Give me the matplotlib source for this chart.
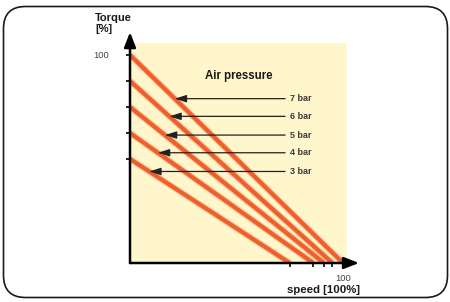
import numpy as np
import matplotlib.pyplot as plt
from matplotlib.patches import FancyBboxPatch

plt.rcParams['font.family'] = ['Liberation Sans', 'DejaVu Sans']

# torque at zero speed and speed at zero torque for each pressure
pressures = ['7 bar', '6 bar', '5 bar', '4 bar', '3 bar']
torque_start = [100, 87.5, 75, 62.5, 50]
speed_end = [100, 95, 91, 86, 75]
# heights where the pointer arrows meet each line
arrow_level = [79, 70.5, 61.5, 53, 44]

W, H = 450, 302
fig = plt.figure(figsize=(W / 100, H / 100), dpi=100)

# rounded frame drawn in pixel units
bg = fig.add_axes([0, 0, 1, 1])
bg.set_xlim(0, W)
bg.set_ylim(0, H)
bg.axis('off')
bg.add_patch(FancyBboxPatch((3.5, 4.5), 444, 291,
                            boxstyle='round,pad=0,rounding_size=22',
                            fc='white', ec='#1a1a1a', lw=1.2))

ax = fig.add_axes([130 / W, 39 / H, 217.3 / W, 220.5 / H])
ax.set_xlim(0, 102)
ax.set_ylim(0, 106)
ax.set_facecolor('#fff6cc')
for s in ax.spines.values():
    s.set_visible(False)

for t0, s1 in zip(torque_start, speed_end):
    ax.plot([0, s1], [t0, 0], color='#f59a70', lw=4.6, alpha=0.5,
            solid_capstyle='butt', zorder=2)
    ax.plot([0, s1], [t0, 0], color='#ef5f2c', lw=3.0,
            solid_capstyle='butt', zorder=3)

# axes with arrowheads
ax.annotate('', xy=(0, 111), xytext=(0, 0), annotation_clip=False,
            arrowprops=dict(arrowstyle='-|>,head_length=0.9,head_width=0.35',
                            color='black', lw=1.8, shrinkA=0, shrinkB=0),
            zorder=5)
ax.annotate('', xy=(107.5, 0), xytext=(0, 0), annotation_clip=False,
            arrowprops=dict(arrowstyle='-|>,head_length=0.9,head_width=0.35',
                            color='black', lw=1.8, shrinkA=0, shrinkB=0),
            zorder=5)

ax.set_yticks(torque_start)
ax.set_yticklabels(['100', '', '', '', ''])
ax.set_xticks(speed_end)
ax.set_xticklabels(['100', '', '', '', ''])
ax.tick_params(axis='both', direction='out', length=3, width=1.2,
               color='black', labelsize=6.7, labelcolor='#444444')
ax.tick_params(axis='y', pad=12)
ax.tick_params(axis='x', pad=5)

# pointer arrows and labels
for name, lvl, t0, s1 in zip(pressures, arrow_level, torque_start, speed_end):
    tip = s1 * (1 - lvl / t0)
    ax.annotate('', xy=(tip, lvl), xytext=(72.8, lvl),
                arrowprops=dict(arrowstyle='-|>,head_length=0.7,head_width=0.22',
                                color='#222222', lw=0.9, shrinkA=0, shrinkB=0),
                zorder=4)
    ax.text(75.3, lvl, name, fontsize=6.5, fontweight='bold',
            color='#3a3a3a', va='center', ha='left')

ax.text(51, 90, 'Air pressure', fontsize=8.3, fontweight='bold',
        color='#1a1a1a', ha='center', va='center')

fig.text(95 / W, 1 - 13 / H, 'Torque\n[%]', fontsize=8, fontweight='bold',
         color='#1a1a1a', ha='left', va='top', linespacing=1.15)
fig.text(287 / W, 1 - 293 / H, 'speed [100%]', fontsize=8.2,
         fontweight='bold', color='#1a1a1a', ha='left', va='baseline')

fig.savefig('out.png', dpi=100)
